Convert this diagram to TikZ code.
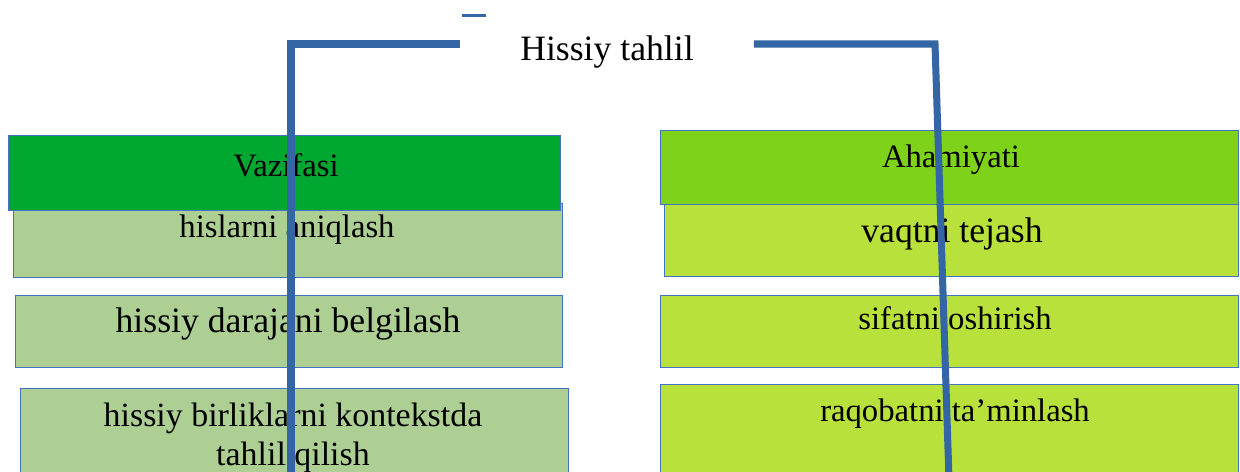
\documentclass[tikz,border=0pt]{standalone}
\usepackage{fontspec}
\setmainfont{Liberation Serif}
\definecolor{linkblue}{RGB}{52,101,164}
\definecolor{edgeblue}{RGB}{68,114,196}
\definecolor{headgreen}{RGB}{0,168,50}
\definecolor{itemgreen}{RGB}{173,207,148}
\definecolor{headlime}{RGB}{126,211,26}
\definecolor{itemlime}{RGB}{184,225,60}

\tikzstyle{box} = [rectangle, draw=edgeblue, line width=0.7pt, inner sep=0pt, anchor=north west]
\tikzstyle{bigtxt} = [inner sep=0pt, anchor=base, font=\fontsize{20.3}{24}\selectfont]
\tikzstyle{smalltxt} = [inner sep=0pt, anchor=base, font=\fontsize{18.6}{22}\selectfont]
\tikzstyle{link} = [draw=linkblue, line width=4pt]

\begin{document}
\begin{tikzpicture}[x=0.02cm, y=-0.02cm]
        \useasboundingbox (0,0) rectangle (1240,472);
        \fill[white] (0,0) rectangle (1240,472);
        \clip (0,0) rectangle (1240,472);
        % Top node (frame hidden, only a piece of its corner shows)
        \node (title) at (607,44) [minimum width=5.86cm, minimum height=1.12cm, inner sep=0pt] {};
        \node (titletxt) at (607,61) [bigtxt] {Hissiy tahlil};
        \draw[linkblue, line width=1.5pt] ([xshift=0.03cm]title.north west) -- ([xshift=0.52cm]title.north west);
        % Left column
        \node (vaz1) at (13,203) [box, fill=itemgreen, minimum width=10.98cm, minimum height=1.48cm] {};
        \node (vaz2) at (15,295) [box, fill=itemgreen, minimum width=10.94cm, minimum height=1.44cm] {};
        \node (vaz3) at (20,388) [box, fill=itemgreen, minimum width=10.96cm, minimum height=2cm] {};
        \node (vaz) at (8,135) [box, fill=headgreen, minimum width=11.04cm, minimum height=1.5cm] {};
        \node (vaztxt) at (286,177) [smalltxt] {Vazifasi};
        \node (vaz1txt) at (287,238) [smalltxt] {hislarni aniqlash};
        \node (vaz2txt) at (288,333) [bigtxt] {hissiy darajani belgilash};
        \node (vaz3txt) at (293,437.6) [anchor=center, inner sep=0pt, align=center, font=\fontsize{19.3}{22.1}\selectfont] {hissiy birliklarni kontekstda\\tahlil qilish};
        % Right column
        \node (aham1) at (664,203) [box, fill=itemlime, minimum width=11.48cm, minimum height=1.46cm] {};
        \node (aham2) at (660,295) [box, fill=itemlime, minimum width=11.56cm, minimum height=1.44cm] {};
        \node (aham3) at (660,384) [box, fill=itemlime, minimum width=11.56cm, minimum height=2cm] {};
        \node (aham) at (660,130) [box, fill=headlime, minimum width=11.56cm, minimum height=1.48cm] {};
        \node (ahamtxt) at (951,168) [smalltxt] {Ahamiyati};
        \node (aham1txt) at (952,243) [bigtxt] {vaqtni tejash};
        \node (aham2txt) at (955,330) [smalltxt] {sifatni oshirish};
        \node (aham3txt) at (955,422) [smalltxt] {raqobatni ta’minlash};
        % Connectors drawn over the boxes
        \coordinate (lend) at (291,480);
        \coordinate (rbend) at (935,44);
        \coordinate (rend) at (949,480);
        \draw[link] (title.west) -| (lend);
        \draw[link] (title.east) -- (rbend) -- (rend);
\end{tikzpicture}
\end{document}
